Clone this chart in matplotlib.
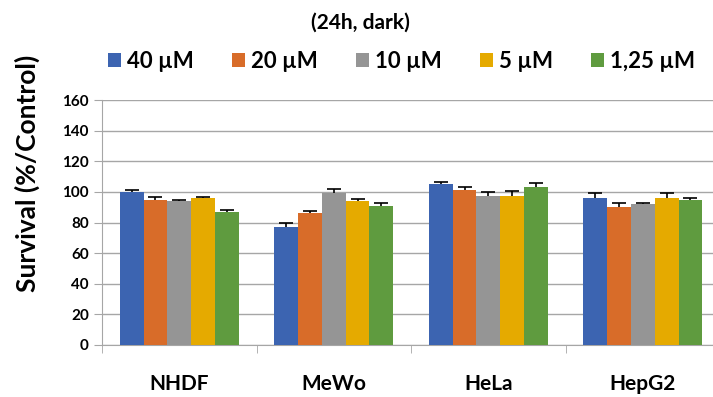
import matplotlib.pyplot as plt
import numpy as np

plt.rcParams['font.family'] = ['Lato', 'DejaVu Sans']

cell_lines = ['NHDF', 'MeWo', 'HeLa', 'HepG2']
doses = ['40 µM', '20 µM', '10 µM', '5 µM', '1,25 µM']
colors = ['#3C64B1', '#D86C29', '#959595', '#E5AA00', '#5F9B3F']

# survival (% of control) per dose, one value per cell line
survival = [
    [100, 77, 105, 96],
    [95, 86, 101, 90],
    [94, 99, 97, 92],
    [96, 94, 97, 96],
    [87, 91, 103, 95],
]
sd = [
    [1.5, 2.5, 1.3, 3.0],
    [1.5, 1.5, 2.5, 2.5],
    [0.8, 3.0, 3.0, 1.0],
    [0.8, 1.5, 3.5, 3.0],
    [1.5, 2.0, 2.5, 1.0],
]

fig = plt.figure(figsize=(7.13, 3.97), dpi=100)
ax = fig.add_axes([0.143, 0.131, 0.867, 0.617])

x = np.arange(len(cell_lines))
width = 0.77 / len(doses)
for i, (dose, col) in enumerate(zip(doses, colors)):
    pos = x + (i - 2) * width
    vals = np.array(survival[i])
    err = np.array(sd[i])
    # error bars sit behind the bars, so only the upper half shows
    ax.errorbar(pos, vals, yerr=err, fmt='none', ecolor='black',
                elinewidth=1.2, capsize=5, capthick=1.2, zorder=2)
    ax.bar(pos, vals, width, color=col, label=dose, zorder=3)

ax.set_xlim(-0.5, len(cell_lines) - 0.5)
ax.set_ylim(0, 160)
ax.set_yticks(np.arange(0, 161, 20))
ax.yaxis.grid(True, color='#A6A6A6', linewidth=1.0, zorder=0)
ax.set_axisbelow(True)

ax.set_xticks(x)
ax.set_xticklabels(cell_lines, fontsize=15, fontweight='bold')
ax.set_xticks(np.arange(len(cell_lines) + 1) - 0.5, minor=True)
ax.tick_params(axis='x', which='major', length=0, pad=21)
ax.tick_params(axis='x', which='minor', length=6, color='#A6A6A6')
ax.tick_params(axis='y', length=6, color='#A6A6A6', labelsize=11)
for lab in ax.get_yticklabels():
    lab.set_fontweight('bold')

for side in ['top', 'right']:
    ax.spines[side].set_visible(False)
for side in ['left', 'bottom']:
    ax.spines[side].set_color('#A6A6A6')

ax.set_ylabel('Survival (%/Control)', fontsize=19, fontweight='bold')
ax.yaxis.set_label_coords(-0.100, 0.70)

fig.text(0.506, 0.944, '(24h, dark)', ha='center', va='center', fontsize=15, fontweight='bold')
fig.legend(loc='center', bbox_to_anchor=(0.563, 0.846), ncol=5, frameon=False,
           prop={'size': 16, 'weight': 'bold'}, handlelength=0.6, handleheight=0.6,
           handletextpad=0.25, columnspacing=1.72)

fig.savefig('out.png', dpi=100)
